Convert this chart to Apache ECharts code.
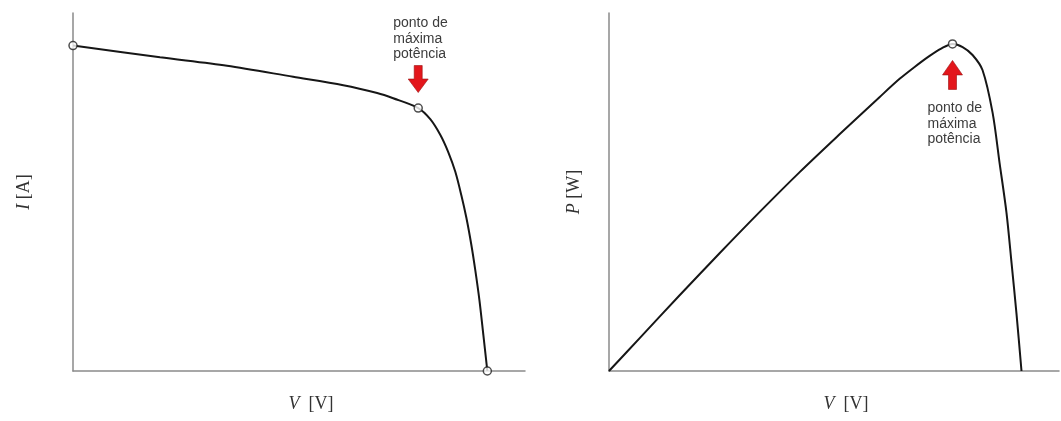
<!DOCTYPE html>
<html>
<head>
<meta charset="utf-8">
<title>Curvas I-V e P-V</title>
<script src="https://cdn.jsdelivr.net/npm/echarts@6/dist/echarts.min.js"></script>
<style>
  html, body { margin: 0; padding: 0; background: #fff; }
  #chart { width: 1061px; height: 421px; }
</style>
</head>
<body>
<div id="chart"></div>
<script>
// curva I-V
const ivVolt = [0, 4.62, 8.18, 11.69, 14.35, 16.15, 17.0, 18.33, 18.97, 19.5, 19.93, 20.3, 20.62, 20.89, 21.15, 21.36, 21.58, 21.79, 22.0]
const ivCurr = [5.0, 4.82, 4.69, 4.52, 4.39, 4.27, 4.19, 4.04, 3.87, 3.63, 3.36, 3.06, 2.7, 2.35, 1.94, 1.55, 1.09, 0.55, 0]
const ivMppIndex = 7

// curva P-V
const pvVolt = [0, 1.65, 3.78, 5.91, 8.04, 10.17, 12.31, 14.44, 15.5, 16.3, 17.1, 17.74, 18.32, 18.86, 19.39, 19.92, 20.46, 20.83, 21.2, 21.47, 21.73, 22.0]
const pvPower = [0, 7.5, 17.2, 26.7, 36.0, 45.0, 53.6, 62.0, 66.1, 68.8, 71.3, 73.0, 74.0, 73.3, 71.5, 68.1, 58.4, 47.1, 35.8, 24.4, 13.1, 0]
const pvMppIndex = 12

const annotationText = 'ponto de\nmáxima\npotência'

const chart = echarts.init(document.getElementById('chart'))

const axisLine = { show: true, onZero: true, lineStyle: { color: '#8a8a8a', width: 1.5 } }
const nameFont = { fontFamily: 'Liberation Serif', fontSize: 18, color: '#333' }

const pairs = (xs, ys) => xs.map((x, i) => [x, ys[i]])

// seta em bloco (para baixo / para cima)
const arrowDown = 'path://M3,0 L7,0 L7,6 L10,6 L5,12 L0,6 L3,6 Z'
const arrowUp = 'path://M5,0 L10,6 L7,6 L7,12 L3,12 L3,6 L0,6 Z'

const labelStyle = {
  show: true,
  formatter: annotationText,
  align: 'left',
  color: '#3c3c3c',
  fontFamily: 'Liberation Sans',
  fontSize: 14,
  lineHeight: 15.5
}

const option = {
  animation: false,
  grid: [
    { left: 73, top: 13, width: 452, bottom: 50 },
    { left: 609, top: 13, width: 450, bottom: 50 }
  ],
  xAxis: [0, 1].map(g => ({
    type: 'value',
    gridIndex: g,
    min: 0,
    max: 24,
    axisLine: axisLine,
    axisTick: { show: false },
    axisLabel: { show: false },
    splitLine: { show: false },
    name: '{i|V}  [V]',
    nameLocation: 'middle',
    nameGap: 24,
    nameTextStyle: {
      ...nameFont,
      padding: [0, 0, 0, 24],
      rich: { i: { ...nameFont, fontStyle: 'italic' } }
    }
  })),
  yAxis: [
    { gridIndex: 0, max: 5.5, name: '{i|I} [A]', gap: 40 },
    { gridIndex: 1, max: 81, name: '{i|P} [W]', gap: 26 }
  ].map(a => ({
    type: 'value',
    gridIndex: a.gridIndex,
    min: 0,
    max: a.max,
    axisLine: axisLine,
    axisTick: { show: false },
    axisLabel: { show: false },
    splitLine: { show: false },
    name: a.name,
    nameLocation: 'middle',
    nameRotate: 90,
    nameGap: a.gap,
    nameTextStyle: {
      ...nameFont,
      rich: { i: { ...nameFont, fontStyle: 'italic' } }
    }
  })),
  series: [
    {
      type: 'line',
      xAxisIndex: 0,
      yAxisIndex: 0,
      data: pairs(ivVolt, ivCurr),
      smooth: 0.3,
      symbol: 'none',
      lineStyle: { color: '#161616', width: 2 },
      markPoint: {
        silent: true,
        data: [{
          coord: [ivVolt[ivMppIndex], ivCurr[ivMppIndex]],
          symbol: arrowDown,
          symbolSize: [20, 27],
          symbolOffset: [0, -29],
          itemStyle: { color: '#e3161b', borderColor: '#9a1010', borderWidth: 0.6 },
          label: { ...labelStyle, position: 'top', distance: 3, offset: [-25, 0] }
        }]
      }
    },
    {
      type: 'scatter',
      xAxisIndex: 0,
      yAxisIndex: 0,
      data: [0, ivMppIndex, ivVolt.length - 1].map(i => [ivVolt[i], ivCurr[i]]),
      symbol: 'circle',
      symbolSize: 8,
      itemStyle: { color: '#fff', borderColor: '#222', borderWidth: 1.5 },
      z: 5
    },
    {
      type: 'line',
      xAxisIndex: 1,
      yAxisIndex: 1,
      data: pairs(pvVolt, pvPower),
      smooth: 0.3,
      symbol: 'none',
      lineStyle: { color: '#161616', width: 2 },
      markPoint: {
        silent: true,
        data: [{
          coord: [pvVolt[pvMppIndex], pvPower[pvMppIndex]],
          symbol: arrowUp,
          symbolSize: [20, 29],
          symbolOffset: [0, 31],
          itemStyle: { color: '#e3161b', borderColor: '#9a1010', borderWidth: 0.6 },
          label: { ...labelStyle, position: 'bottom', distance: 11, offset: [-25, 0] }
        }]
      }
    },
    {
      type: 'scatter',
      xAxisIndex: 1,
      yAxisIndex: 1,
      data: [[pvVolt[pvMppIndex], pvPower[pvMppIndex]]],
      symbol: 'circle',
      symbolSize: 8,
      itemStyle: { color: '#fff', borderColor: '#222', borderWidth: 1.5 },
      z: 5
    }
  ]
}

chart.setOption(option)
</script>
</body>
</html>
